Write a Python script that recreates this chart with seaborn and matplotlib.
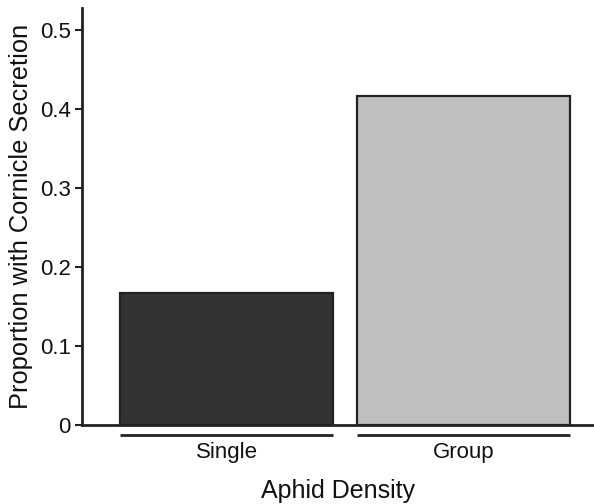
import matplotlib
matplotlib.use("Agg")
import matplotlib.pyplot as plt
import matplotlib.transforms as mtransforms
import seaborn as sns
import pandas as pd

categories = ["Single", "Group"]
proportions = [0.167, 0.417]
bar_colors = ["#333333", "#bfbfbf"]
y_ticks = [0, 0.1, 0.2, 0.3, 0.4, 0.5]
y_tick_labels = ["0", "0.1", "0.2", "0.3", "0.4", "0.5"]

sns.set_style("white")
plt.rcParams['font.family'] = ['Liberation Sans', 'DejaVu Sans']

df = pd.DataFrame({"density": categories, "prop": proportions})

fig = plt.figure(figsize=(5.94, 5.04), dpi=100)
ax = fig.add_axes([82/594, 79/504, 1 - 82/594, (425-8)/504])

sns.barplot(data=df, x="density", y="prop", hue="density", palette=bar_colors,
            order=categories, hue_order=categories, legend=False, width=0.9,
            edgecolor="#222222", linewidth=1.6, ax=ax, saturation=1)

ax.set_xlim(-0.61, 1.55)
ax.set_ylim(0, 0.528)
ax.set_yticks(y_ticks)
ax.set_yticklabels(y_tick_labels, fontsize=16, color="#111111")
ax.tick_params(axis="y", left=True, length=5, width=1.5, color="#222222", pad=3)
ax.tick_params(axis="x", bottom=False, labelsize=16, labelcolor="#111111", pad=9)

for s in ["top", "right"]:
    ax.spines[s].set_visible(False)
for s in ["left", "bottom"]:
    ax.spines[s].set_color("#222222")
    ax.spines[s].set_linewidth(2)

# underline brackets beneath category labels
trans = mtransforms.blended_transform_factory(ax.transData, ax.transAxes)
for i, _ in enumerate(categories):
    ax.plot([i - 0.45, i + 0.45], [-0.024, -0.024], transform=trans,
            color="#222222", lw=2, clip_on=False, solid_capstyle="butt")

ax.set_xlabel("Aphid Density", fontsize=18, color="#111111", labelpad=11)
ax.set_ylabel("Proportion with Cornicle Secretion", fontsize=18.3, color="#111111", labelpad=5)

fig.savefig("out.png", dpi=100)
